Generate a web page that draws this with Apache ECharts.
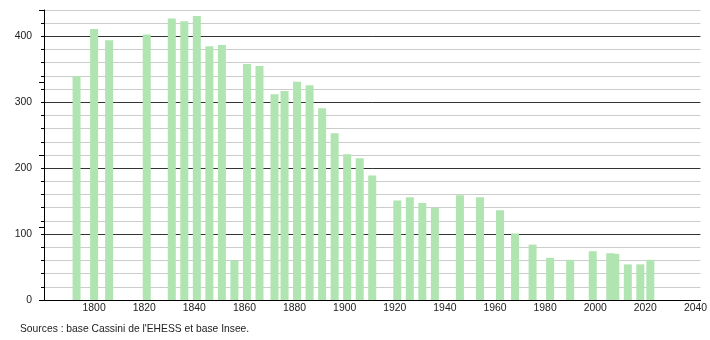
<!DOCTYPE html>
<html>
<head>
<meta charset="utf-8">
<script src="https://cdn.jsdelivr.net/npm/echarts@6/dist/echarts.min.js"></script>
<style>html,body{margin:0;padding:0;background:#fff}#c{width:710px;height:340px}</style>
</head>
<body>
<div id="c"></div>
<script>
var years = [1793,1800,1806,1821,1831,1836,1841,1846,1851,1856,1861,1866,1872,1876,1881,1886,1891,1896,1901,1906,1911,1921,1926,1931,1936,1946,1954,1962,1968,1975,1982,1990,1999,2006,2008,2013,2018,2022];
var population = [340,411,394,403,427,423,431,385,387,60,358,355,312,317,331,326,291,253,221,215,189,151,156,147,140,159,156,136,101,84,64,61,74,71,70,54,54,61];
var sourceText = "Sources : base Cassini de l'EHESS et base Insee.";

var chart = echarts.init(document.getElementById('c'), null, {renderer:'canvas'});
var font = 'Liberation Sans, Arial, sans-serif';
chart.setOption({
  animation: false,
  grid: {left: 44, right: 9, top: 10, bottom: 40},
  xAxis: {
    type: 'value', min: 1780, max: 2042, interval: 20,
    axisLine: {show: true, lineStyle: {color: '#000', width: 1}},
    axisTick: {show: false},
    splitLine: {show: false},
    axisLabel: {
      margin: 3, color: '#222', fontFamily: font, fontSize: 10.4,
      showMinLabel: false, showMaxLabel: false,
      formatter: function (v) { return (v % 20 === 0 && v > 1780) ? String(v) : ''; }
    }
  },
  yAxis: [{
    type: 'value', min: 0, max: 440, interval: 20,
    axisLine: {show: true, lineStyle: {color: '#000', width: 1}},
    axisTick: {show: true, length: 3, lineStyle: {color: '#000'}},
    splitLine: {show: true, lineStyle: {color: ['#333','#cccccc','#cccccc','#cccccc','#cccccc'], width: 1}},
    axisLabel: {
      margin: 12, color: '#222', fontFamily: font, fontSize: 10.4,
      formatter: function (v) { return v % 100 === 0 ? String(v) : ''; }
    }
  }, {
    type: 'value', min: 0, max: 400, interval: 100, position: 'left',
    axisLine: {show: false},
    axisTick: {show: true, length: 5, lineStyle: {color: '#000'}},
    splitLine: {show: false},
    axisLabel: {show: false}
  }],
  series: [{
    type: 'bar',
    yAxisIndex: 0,
    barWidth: 8,
    itemStyle: {color: '#b0e4b0'},
    data: years.map(function (y, i) { return [y, population[i]]; })
  }],
  graphic: [{
    type: 'text', left: 20, top: 324,
    style: {text: sourceText, fill: '#222', font: '10.3px ' + font}
  }]
});
</script>
</body>
</html>
